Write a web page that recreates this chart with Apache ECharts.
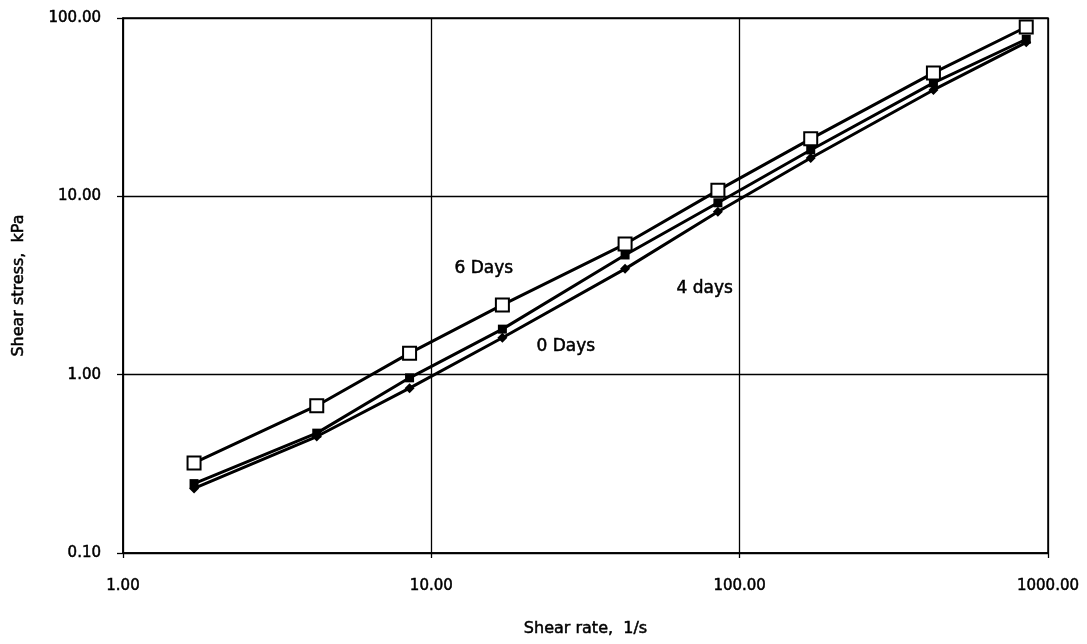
<!DOCTYPE html>
<html>
<head>
<meta charset="utf-8">
<style>
  html, body { margin: 0; padding: 0; background: #fff; }
  #chart { width: 1087px; height: 644px; }
</style>
<script src="https://cdn.jsdelivr.net/npm/echarts@6/dist/echarts.min.js"></script>
</head>
<body>
<div id="chart"></div>
<script>
// Shear rate (1/s) and measured shear stress (kPa) after ageing
const shearRate = [1.7, 4.25, 8.5, 17, 42.5, 85, 170, 425, 850];
const stressDay6 = [0.32, 0.67, 1.32, 2.46, 5.4, 10.8, 21, 49.2, 89];
const stressDay4 = [0.245, 0.47, 0.96, 1.80, 4.69, 9.2, 18.2, 43.3, 76];
const stressDay0 = [0.23, 0.45, 0.84, 1.61, 3.92, 8.2, 16.4, 39.5, 73];
const seriesNames = ['6 Days', '4 days', '0 Days'];

const FONT = 'DejaVu Sans';
const pairs = (ys) => shearRate.map((x, i) => [x, ys[i]]);

// slightly heavier text strokes
const textInk = { color: '#000', fontFamily: FONT, textBorderColor: '#000', textBorderWidth: 0.5 };

// curve names written beside the lines, anchored in data units
const nameAnchor = {
  '6 Days': [14.8, 3.95],
  '4 days': [77, 3.05],
  '0 Days': [27.3, 1.43]
};

function curveLabel(name) {
  return {
    symbol: 'rect',
    symbolSize: 0,
    silent: true,
    label: Object.assign({ show: true, position: 'inside', formatter: name, fontSize: 17 }, textInk),
    data: [{ coord: nameAnchor[name] }]
  };
}

const lineStyle = { color: '#000', width: 3 };

const chart = echarts.init(document.getElementById('chart'), null, { renderer: 'canvas' });
chart.setOption({
  animation: false,
  backgroundColor: '#fff',
  grid: {
    left: 123, right: 39, top: 18, bottom: 91,
    show: true, borderColor: '#000', borderWidth: 1.5
  },
  xAxis: {
    type: 'log', logBase: 10, min: 1, max: 1000,
    name: 'Shear rate,  1/s', nameLocation: 'middle', nameGap: 68,
    nameTextStyle: Object.assign({ fontSize: 16 }, textInk),
    axisLine: { show: true, lineStyle: { color: '#000', width: 1.5 } },
    axisTick: { show: true, inside: false, length: 5, lineStyle: { color: '#000', width: 1.3 } },
    minorTick: { show: false },
    splitLine: { show: true, lineStyle: { color: '#000', width: 1.3 } },
    axisLabel: Object.assign({
      fontSize: 15, margin: 26,
      formatter: (v) => Number(v).toFixed(2)
    }, textInk)
  },
  yAxis: {
    type: 'log', logBase: 10, min: 0.1, max: 100,
    name: 'Shear stress,  kPa', nameLocation: 'middle', nameGap: 96, nameRotate: 90,
    nameTextStyle: Object.assign({ fontSize: 16 }, textInk),
    axisLine: { show: true, lineStyle: { color: '#000', width: 1.5 } },
    axisTick: { show: true, inside: false, length: 6, lineStyle: { color: '#000', width: 1.3 } },
    minorTick: { show: false },
    splitLine: { show: true, lineStyle: { color: '#000', width: 1.3 } },
    axisLabel: Object.assign({
      fontSize: 15, margin: 22,
      formatter: (v) => Number(v).toFixed(2)
    }, textInk)
  },
  series: [
    {
      name: seriesNames[2], type: 'line', data: pairs(stressDay0),
      symbol: 'diamond', symbolSize: 10,
      itemStyle: { color: '#000' }, lineStyle: lineStyle,
      markPoint: curveLabel('0 Days'), z: 3
    },
    {
      name: seriesNames[1], type: 'line', data: pairs(stressDay4),
      symbol: 'rect', symbolSize: 9,
      itemStyle: { color: '#000' }, lineStyle: lineStyle,
      markPoint: curveLabel('4 days'), z: 4
    },
    {
      name: seriesNames[0], type: 'line', data: pairs(stressDay6),
      symbol: 'rect', symbolSize: 13,
      itemStyle: { color: '#fff', borderColor: '#000', borderWidth: 2 },
      lineStyle: lineStyle,
      markPoint: curveLabel('6 Days'), z: 5
    }
  ]
});
</script>
</body>
</html>
